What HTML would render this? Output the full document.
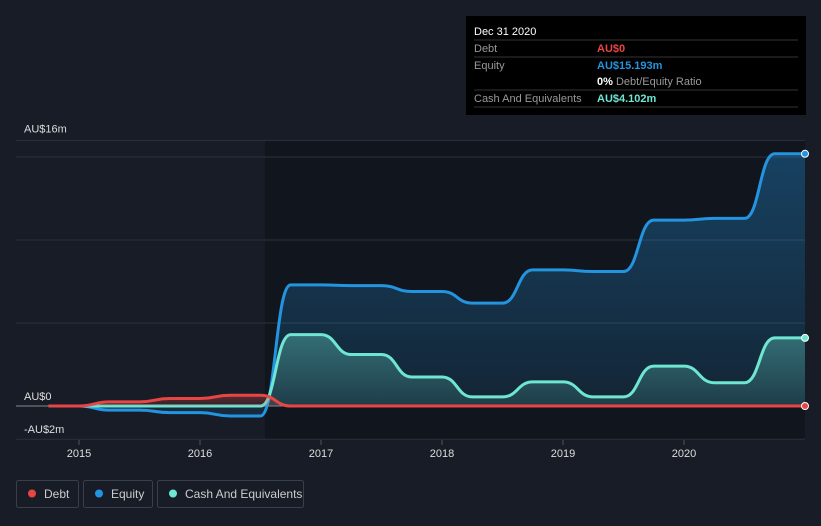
<!DOCTYPE html>
<html><head><meta charset="utf-8"><style>
body{margin:0;background:#171c26;font-family:"Liberation Sans",sans-serif;}
svg{display:block}
</style></head><body>
<svg width="821" height="526" id="chart">
<rect width="821" height="526" fill="#171c26"/>
<rect x="265" y="140" width="540" height="300" fill="#11151d"/>
<g id="grid"></g>
<g id="series"></g>
<g id="tooltip">
<rect x="466" y="16" width="340" height="99" fill="#000"/>
<text x="474" y="35" fill="#fff" font-size="11">Dec 31 2020</text>
<line x1="474" y1="40" x2="798" y2="40" stroke="#333"/>
<text x="474" y="52" fill="#999" font-size="11">Debt</text>
<text x="597" y="52" fill="#e84545" font-size="11" font-weight="bold">AU$0</text>
<line x1="474" y1="57" x2="798" y2="57" stroke="#333"/>
<text x="474" y="69" fill="#999" font-size="11">Equity</text>
<text x="597" y="69" fill="#2394df" font-size="11" font-weight="bold">AU$15.193m</text>
<text x="597" y="85" fill="#fff" font-size="11" font-weight="bold">0% <tspan fill="#999" font-weight="normal">Debt/Equity Ratio</tspan></text>
<line x1="474" y1="90" x2="798" y2="90" stroke="#333"/>
<text x="474" y="102" fill="#999" font-size="11">Cash And Equivalents</text>
<text x="597" y="102" fill="#6ee6d2" font-size="11" font-weight="bold">AU$4.102m</text>
<line x1="474" y1="107" x2="798" y2="107" stroke="#333"/>
</g>
<g id="legend">
<g><rect x="16.5" y="480.5" width="62" height="27" rx="2" fill="none" stroke="#3a3f4a"/><circle cx="32" cy="493.5" r="4" fill="#e84545"/><text x="44" y="498" fill="#ccc" font-size="12">Debt</text></g>
<g><rect x="83.5" y="480.5" width="69" height="27" rx="2" fill="none" stroke="#3a3f4a"/><circle cx="99" cy="493.5" r="4" fill="#2394df"/><text x="111" y="498" fill="#ccc" font-size="12">Equity</text></g>
<g><rect x="157.5" y="480.5" width="146" height="27" rx="2" fill="none" stroke="#3a3f4a"/><circle cx="173" cy="493.5" r="4" fill="#6ee6d2"/><text x="185" y="498" fill="#ccc" font-size="12">Cash And Equivalents</text></g>
</g>
</svg>
<script>
const times=[2014.75,2015,2015.25,2015.5,2015.75,2016,2016.25,2016.5,2016.75,2017,2017.25,2017.5,2017.75,2018,2018.25,2018.5,2018.75,2019,2019.25,2019.5,2019.75,2020,2020.25,2020.5,2020.75,2021];
const debt=[0,0,0.25,0.25,0.45,0.45,0.65,0.65,0,0,0,0,0,0,0,0,0,0,0,0,0,0,0,0,0,0];
const equity=[0,0,-0.25,-0.25,-0.4,-0.4,-0.6,-0.6,7.3,7.3,7.25,7.25,6.9,6.9,6.2,6.2,8.2,8.2,8.1,8.1,11.2,11.2,11.3,11.3,15.193,15.193];
const cash=[0,0,0,0,0,0,0,0,4.3,4.3,3.1,3.1,1.75,1.75,0.55,0.55,1.45,1.45,0.55,0.55,2.4,2.4,1.4,1.4,4.102,4.102];
const yTicks=[-2,0,5,10,15,16];
const yLabels={"16":"AU$16m","0":"AU$0","-2":"-AU$2m"};
const xTicks=[2015,2016,2017,2018,2019,2020];
const X=t=>79+(t-2015)*121;
const Y=v=>406-v*16.6;
const NS="http://www.w3.org/2000/svg";
function mk(tag,attrs,parent){const e=document.createElementNS(NS,tag);for(const k in attrs)e.setAttribute(k,attrs[k]);parent.appendChild(e);return e;}
const grid=document.getElementById('grid'),ser=document.getElementById('series'),svg=document.getElementById('chart');
yTicks.forEach(v=>{
 const l=mk('line',{x1:16,x2:805,y1:Y(v),y2:Y(v),stroke:v===0?'#888':'#2c313b','stroke-width':1},grid);
 
 
 if(yLabels[v]!==undefined){const t=mk('text',{x:24,y:Y(v)-(v===16?8:6),fill:'#ddd','font-size':11},grid);t.textContent=yLabels[v];
 if(v===-2){t.setAttribute('y',Y(v)-6);}
 
 }
});
xTicks.forEach(x=>{
 mk('line',{x1:X(x),x2:X(x),y1:440,y2:445,stroke:'#555'},grid);
 const t=mk('text',{x:X(x),y:457,fill:'#ddd','font-size':11,'text-anchor':'middle'},grid);t.textContent=x;
 
 
});
function pathD(vals){let d='M'+X(times[0])+','+Y(vals[0]);
 for(let i=1;i<times.length;i++){const x0=X(times[i-1]),x1=X(times[i]),y0=Y(vals[i-1]),y1=Y(vals[i]);const m=(x0+x1)/2;d+=` C${m},${y0} ${m},${y1} ${x1},${y1}`;}return d;}
const defs=mk('defs',{},svg);
function grad(id,c){const g=mk('linearGradient',{id:id,x1:0,y1:0,x2:0,y2:1},defs);mk('stop',{offset:0,'stop-color':c,'stop-opacity':0.35},g);mk('stop',{offset:1,'stop-color':c,'stop-opacity':0.12},g);}
grad('ge','#2394df');grad('gc','#6ee6d2');grad('gd','#e84545');
[[equity,'#2394df','ge','equity'],[cash,'#6ee6d2','gc','cash'],[debt,'#e84545','gd','debt']].forEach(([vals,c,g,n])=>{
 const d=pathD(vals);
 const a=mk('path',{d:d+` L${X(times[times.length-1])},${Y(0)} L${X(times[0])},${Y(0)} Z`,fill:`url(#${g})`},ser);
 
 
 const l=mk('path',{d:d,fill:'none',stroke:c,'stroke-width':3},ser);
 
 
 const p=mk('circle',{cx:X(times[times.length-1]),cy:Y(vals[vals.length-1]),r:3.5,fill:c,stroke:'#fff','stroke-width':1},ser);
 
 
});
</script>
</body></html>
